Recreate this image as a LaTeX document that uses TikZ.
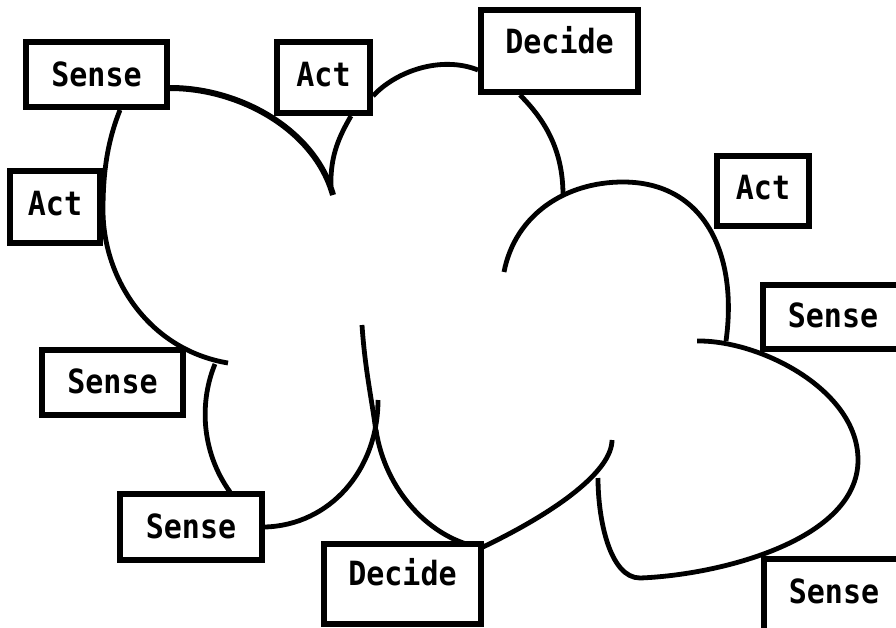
\documentclass[tikz,border=0pt]{standalone}
\usepackage{fontspec}
\newfontfamily\tagfont{DejaVu Sans Mono}[FakeStretch=0.9]
\tikzset{
  tag/.style={draw, fill=white, line width=4.5pt, inner sep=0pt, anchor=base,
    font=\tagfont\bfseries\fontsize{25pt}{30pt}\selectfont},
  lobe/.style={line width=3.6pt},
}

\begin{document}
\begin{tikzpicture}[x=0.75pt,y=0.75pt,yscale=-1]
	\clip (0,0) rectangle (896,628);
	
	%Curve Lines: left lobe
	\draw [lobe] (120,110) .. controls (108,140) and (103,170) .. (103,210) .. controls (103,280) and (150,350) .. (228,363) ;
	%Curve Lines: top lobe into the cusp
	\coordinate (cusp) at (333,195);
	\draw [lobe, line width=4.5pt] (170,88) .. controls (240,88) and (315,130) .. (cusp) ;
	\draw [lobe] (351,116) .. controls (340,135) and (330,155) .. (331,186) ;
	%Curve Lines: top arc to Decide
	\draw [lobe] (373,96) .. controls (395,72) and (440,55) .. (478,70) ;
	\draw [lobe] (520,95) .. controls (545,120) and (563,150) .. (563,195) ;
	%Curve Lines: right lobe
	\draw [lobe] (504,272) .. controls (515,215) and (565,182) .. (623,182) .. controls (705,182) and (738,255) .. (726,341) ;
	%Curve Lines: bottom right lobe
	\draw [lobe] (697,341) .. controls (760,340) and (858,390) .. (858,460) .. controls (858,540) and (720,575) .. (640,578) .. controls (610,578) and (598,520) .. (598,478) ;
	\draw [lobe] (612,440) .. controls (612,470) and (560,510) .. (483,547) ;
	%Curve Lines: middle
	\draw [lobe] (362,325) .. controls (365,370) and (372,400) .. (376,432) ;
	\draw [lobe] (265,527) .. controls (330,525) and (378,470) .. (378,400) ;
	\draw [lobe] (376,430) .. controls (385,490) and (430,540) .. (483,548) ;
	%Curve Lines: bottom left lobe
	\draw [lobe] (215,364) .. controls (200,400) and (200,450) .. (230,492) ;
	
	% Text Node
	\node [tag, minimum width=105.75pt, text height=33pt, text depth=15.75pt] (senseA) at (96.5,86) {Sense};
	% Text Node
	\node [tag, minimum width=69.75pt, text height=33pt, text depth=20.25pt] (actA) at (323.5,86) {Act};
	% Text Node
	\node [tag, minimum width=117.75pt, text height=32.25pt, text depth=29.25pt] (decideA) at (559.5,53) {Decide};
	% Text Node
	\node [tag, minimum width=67.5pt, text height=33pt, text depth=21pt] (actL) at (55,215) {Act};
	% Text Node
	\node [tag, minimum width=69pt, text height=32.25pt, text depth=20.25pt] (actR) at (763,199) {Act};
	% Text Node
	\node [tag, minimum width=105pt, text height=31.5pt, text depth=16.5pt] (senseR) at (833,327) {Sense};
	% Text Node
	\node [tag, minimum width=105.75pt, text height=32.25pt, text depth=16.5pt] (senseL) at (112.5,393) {Sense};
	% Text Node
	\node [tag, minimum width=106.5pt, text height=33pt, text depth=16.5pt] (senseLL) at (191,538) {Sense};
	% Text Node
	\node [tag, minimum width=117.75pt, text height=30.75pt, text depth=29.25pt] (decideB) at (402.5,585) {Decide};
	% Text Node
	\node [tag, minimum width=105pt, text height=33pt, text depth=30pt] (senseBR) at (834,603) {Sense};
	
\end{tikzpicture}
\end{document}
